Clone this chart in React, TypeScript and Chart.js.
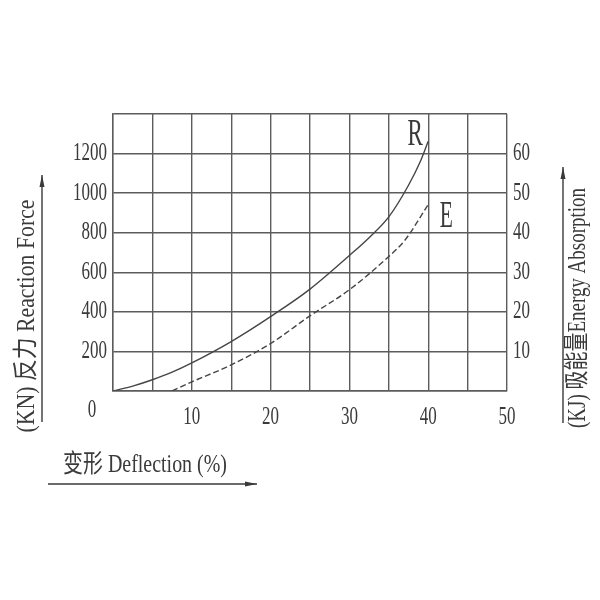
import { useEffect, useRef } from "react";
import { Chart, registerables } from "chart.js";

Chart.register(...registerables);

// deflection (%) / reaction force (KN) for curve R
const deflectionR = [0, 2.5, 5, 7.5, 10, 15, 20, 25, 30, 32.5, 35, 37.5, 39, 40];
const forceR = [0, 25, 57, 95, 142, 250, 376, 515, 685, 775, 880, 1040, 1160, 1262];

// deflection (%) / energy absorption (KJ) for curve E
const deflectionE = [7.5, 10, 15, 20, 25, 30, 35, 37, 40];
const energyE = [0, 2.3, 6.6, 12.0, 19.0, 25.6, 34.0, 38.0, 47.1];

const xTickLabels = [10, 20, 30, 40, 50];
const forceTickLabels = [200, 400, 600, 800, 1000, 1200];
const energyTickLabels = [10, 20, 30, 40, 50, 60];

const INK = "#3a3a3a";
const GRID = "#5c5c5c";
const SERIF = "'Liberation Serif', 'Noto Sans CJK SC', serif";

function drawText(
  ctx: CanvasRenderingContext2D,
  text: string,
  x: number,
  y: number,
  font: string,
  sx: number,
  align: CanvasTextAlign,
  rot = 0
) {
  ctx.save();
  ctx.translate(x, y);
  if (rot) ctx.rotate(rot);
  ctx.scale(sx, 1);
  ctx.font = font;
  ctx.fillStyle = INK;
  ctx.textAlign = align;
  ctx.textBaseline = "middle";
  ctx.fillText(text, 0, 0);
  ctx.restore();
}

// squeeze text so that it spans a given length
function drawFitted(
  ctx: CanvasRenderingContext2D,
  text: string,
  cx: number,
  cy: number,
  font: string,
  length: number,
  rot = 0
) {
  ctx.save();
  ctx.font = font;
  const w = ctx.measureText(text).width;
  ctx.restore();
  drawText(ctx, text, cx, cy, font, length / w, "center", rot);
}

function arrow(ctx: CanvasRenderingContext2D, x1: number, y1: number, x2: number, y2: number) {
  const a = Math.atan2(y2 - y1, x2 - x1);
  ctx.save();
  ctx.strokeStyle = INK;
  ctx.fillStyle = INK;
  ctx.lineWidth = 1.4;
  ctx.beginPath();
  ctx.moveTo(x1, y1);
  ctx.lineTo(x2, y2);
  ctx.stroke();
  ctx.beginPath();
  ctx.moveTo(x2, y2);
  ctx.lineTo(x2 - 12 * Math.cos(a) + 2.5 * Math.sin(a), y2 - 12 * Math.sin(a) - 2.5 * Math.cos(a));
  ctx.lineTo(x2 - 12 * Math.cos(a) - 2.5 * Math.sin(a), y2 - 12 * Math.sin(a) + 2.5 * Math.cos(a));
  ctx.closePath();
  ctx.fill();
  ctx.restore();
}

const textPlugin = {
  id: "drawingText",
  afterDraw(chart: Chart) {
    const { ctx } = chart;
    const x = chart.scales.x;
    const y = chart.scales.y;
    const y2 = chart.scales.y2;
    const tickFont = `25px ${SERIF}`;

    forceTickLabels.forEach((v) =>
      drawText(ctx, String(v), y.right - 6, y.getPixelForValue(v), tickFont, 0.68, "right")
    );
    energyTickLabels.forEach((v) =>
      drawText(ctx, String(v), y2.left + 6, y2.getPixelForValue(v), tickFont, 0.68, "left")
    );
    xTickLabels.forEach((v) =>
      drawText(ctx, String(v), x.getPixelForValue(v), x.top + 26, tickFont, 0.68, "center")
    );
    drawText(ctx, "0", x.left - 21, x.top + 19, tickFont, 0.68, "center");

    // curve names next to the last point of each curve
    const labelFont = `37px ${SERIF}`;
    const mR = chart.getDatasetMeta(0).data;
    const mE = chart.getDatasetMeta(1).data;
    const pR = mR[mR.length - 1];
    const pE = mE[mE.length - 1];
    drawText(ctx, "R", pR.x - 13, pR.y - 6, labelFont, 0.62, "center");
    drawText(ctx, "E", pE.x + 18, pE.y + 13, labelFont, 0.58, "center");

    const titleFont = `25px ${SERIF}`;
    drawFitted(ctx, "(KN) 反力 Reaction Force", 27, 316, titleFont, 233, -Math.PI / 2);
    drawFitted(ctx, "(KJ) 吸能量Energy Absorption", 578, 308, titleFont, 240, -Math.PI / 2);
    drawFitted(ctx, "变形 Deflection (%)", 145, 465, titleFont, 164);

    arrow(ctx, 42, 422, 42, 175);
    arrow(ctx, 563, 423, 563, 167);
    arrow(ctx, 48, 484, 257, 484);
  },
};

export default function App() {
  const chartRef = useRef<HTMLCanvasElement>(null);

  useEffect(() => {
    document.body.style.margin = "0";
    if (!chartRef.current) return;

    const gridStyle = {
      color: GRID,
      lineWidth: 1.4,
      drawTicks: false,
    };

    const chart = new Chart(chartRef.current, {
      type: "line",
      data: {
        datasets: [
          {
            label: "R",
            data: deflectionR.map((d, i) => ({ x: d, y: forceR[i] })),
            yAxisID: "y",
            borderColor: "#454545",
            borderWidth: 1.4,
            pointRadius: 0,
            cubicInterpolationMode: "monotone",
          },
          {
            label: "E",
            data: deflectionE.map((d, i) => ({ x: d, y: energyE[i] })),
            yAxisID: "y2",
            borderColor: "#454545",
            borderWidth: 1.4,
            borderDash: [6, 3],
            pointRadius: 0,
            cubicInterpolationMode: "monotone",
          },
        ],
      },
      options: {
        responsive: true,
        maintainAspectRatio: false,
        animation: false,
        layout: { padding: { top: 114, left: 0, right: 0, bottom: 0 } },
        plugins: {
          legend: { display: false },
          tooltip: { enabled: false },
        },
        scales: {
          x: {
            type: "linear",
            min: 0,
            max: 50,
            ticks: { stepSize: 5, display: false },
            grid: gridStyle,
            border: { color: GRID, width: 1.4 },
            afterFit(scale) {
              scale.height = 209;
            },
          },
          y: {
            min: 0,
            max: 1400,
            ticks: { stepSize: 200, display: false },
            grid: gridStyle,
            border: { color: GRID, width: 1.4 },
            afterFit(scale) {
              scale.width = 113;
            },
          },
          y2: {
            position: "right",
            min: 0,
            max: 70,
            ticks: { stepSize: 10, display: false },
            grid: { display: false, drawTicks: false },
            border: { display: false },
            afterFit(scale) {
              scale.width = 93;
            },
          },
        },
      },
      plugins: [textPlugin],
    });

    return () => {
      chart.destroy();
    };
  }, []);

  return (
    <div style={{ position: "relative", width: 600, height: 600, background: "#fff" }}>
      <canvas ref={chartRef}></canvas>
    </div>
  );
}
